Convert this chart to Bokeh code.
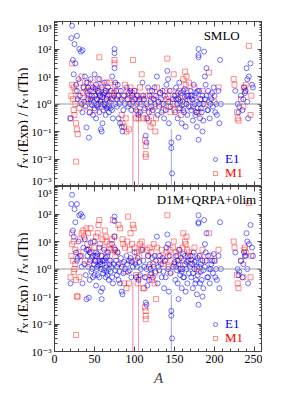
import math
from bokeh.plotting import figure
from bokeh.models import (Range1d, LinearAxis, LogAxis, FixedTicker, CustomJSTickFormatter,
                          Span, Label, Legend, LegendItem)
from bokeh.layouts import column, row
from bokeh.embed import file_html
from bokeh.resources import INLINE

FONT = "Liberation Serif"
TICK_FONT = "'Liberation Serif', 'DejaVu Serif', serif"

# ---------------- data ----------------
x_ticks = [0, 50, 100, 150, 200, 250]
x_minor = list(range(0, 261, 10))
y_ticks = [1e-3, 1e-2, 1e-1, 1, 10, 100, 1000]
y_minor = [k * 10.0 ** n for n in range(-3, 3) for k in range(2, 10)]

panel_titles = ["SMLO", "D1M+QRPA+0lim"]
legend_labels = ["E1", "M1"]

e1_A = [20, 21, 22, 23, 24, 25, 26, 27, 28, 28,
        29, 30, 31, 32, 33, 34, 35, 35, 36, 37,
        38, 39, 40, 40, 41, 42, 43, 44, 44, 45,
        46, 47, 48, 48, 49, 50, 50, 51, 52, 52,
        53, 54, 54, 55, 56, 56, 57, 58, 58, 59,
        59, 60, 60, 61, 62, 62, 63, 64, 64, 65,
        66, 66, 67, 68, 68, 69, 70, 70, 71, 72,
        72, 73, 74, 75, 75, 75, 76, 76, 77, 78,
        78, 79, 80, 80, 81, 82, 83, 84, 84, 85,
        86, 87, 88, 90, 91, 92, 93, 94, 95, 96,
        97, 98, 100, 101, 102, 103, 104, 105, 106, 107,
        108, 110, 111, 112, 113, 114, 115, 115, 116, 117,
        118, 119, 120, 121, 122, 123, 124, 125, 126, 127,
        128, 129, 130, 131, 132, 133, 134, 135, 136, 137,
        138, 139, 140, 141, 142, 142, 143, 144, 145, 146,
        146, 147, 148, 150, 151, 152, 153, 154, 155, 155,
        156, 157, 158, 159, 160, 161, 162, 163, 164, 165,
        166, 167, 168, 170, 171, 172, 173, 174, 175, 176,
        177, 178, 178, 179, 180, 180, 180, 180, 181, 182,
        183, 184, 185, 185, 186, 187, 188, 189, 190, 190,
        191, 192, 193, 194, 196, 198, 199, 200, 201, 202,
        203, 205, 206, 207, 208, 226, 229, 230, 231, 233,
        235, 236, 237, 238, 239, 240, 241, 241, 242, 243,
        245, 247, 248,
        42, 45, 47, 51, 53, 55, 57, 61, 63, 65,
        152, 154, 157, 159, 161, 163, 165, 169, 171, 173,
        175, 177, 179, 181, 183, 186, 188, 192, 195, 197]

e1_smlo = [0.3, 250, 700, 40, 12, 150, 30, 5, 300, 3,
           1.5, 8, 100, 2, 80, 1, 90, 0.5, 4, 1.2,
           10, 0.8, 0.14, 6, 2.5, 1.5, 0.06, 3, 0.5, 8,
           1, 2, 0.4, 4, 1.2, 12, 0.7, 2, 5, 0.3,
           1.5, 3, 0.8, 1, 8, 0.5, 2, 0.12, 1.2, 4,
           0.1, 0.2, 1.8, 0.6, 6, 1, 2.5, 0.4, 3, 1.5,
           0.8, 2, 4, 0.9, 0.5, 1.2, 3, 0.7, 1.5, 10,
           0.6, 0.3, 2, 100, 70, 20, 6, 1, 3, 1.5,
           0.8, 5, 2, 0.3, 1, 0.2, 3, 0.15, 1.5, 0.1,
           0.6, 2, 1, 4, 1.5, 0.8, 2.5, 1, 3, 0.6,
           2, 1.2, 3, 1.5, 0.6, 1, 2, 0.4, 1.5, 0.5,
           1, 6, 2, 1.5, 0.7, 0.07, 0.04, 1, 0.3, 4,
           0.5, 2, 1.2, 0.8, 3, 0.6, 1.5, 4, 1, 2,
           10, 0.4, 1.2, 0.8, 2.5, 1.5, 0.5, 3, 1, 0.3,
           2, 0.6, 5, 16, 8, 1.2, 0.2, 3, 0.8, 0.04,
           0.025, 0.003, 1.5, 2, 0.5, 4, 1, 0.3, 0.06, 1.5,
           6, 0.7, 2.5, 0.2, 1.2, 3, 0.5, 1.8, 0.15, 1,
           0.4, 2, 0.8, 3, 0.6, 1.5, 0.25, 5, 1, 0.4,
           2.5, 0.15, 1.2, 0.7, 100, 60, 50, 0.05, 3, 0.3,
           1.5, 0.5, 2, 0.1, 1, 80, 10, 5, 20, 2,
           0.6, 3, 1.2, 0.3, 1.5, 0.8, 4, 2, 0.5, 1,
           0.4, 3, 0.2, 40, 1, 3, 1, 0.5, 0.8, 2,
           0.6, 1.5, 4, 2.5, 3, 20, 8, 1.2, 0.3, 10,
           30, 5, 4,
           4, 1.5, 0.9, 3.5, 0.9, 2.5, 1.3, 2.2, 0.9, 0.7,
           1.5, 2.5, 1.2, 0.9, 0.6, 3.5, 2, 1.3, 2, 0.8,
           2, 0.5, 3, 1, 0.7, 0.25, 1.5, 0.6, 1, 2.5]

e1_d1m = [0.3, 230, 500, 25, 15, 150, 50, 4, 230, 2,
          2.5, 10, 90, 3, 100, 1.2, 80, 0.3, 6, 1.5,
          12, 0.6, 0.08, 5, 3, 1.2, 0.09, 4, 0.4, 9,
          0.8, 2.5, 0.5, 3, 1.5, 10, 0.6, 2, 4, 0.25,
          1.2, 3.5, 0.6, 1.3, 6, 0.5, 1.8, 0.15, 1, 3,
          0.08, 0.2, 2, 0.7, 5, 0.9, 2, 0.5, 2.5, 1.2,
          0.6, 3, 4, 1, 0.4, 1.5, 2, 0.8, 1.2, 8,
          0.5, 0.3, 1.5, 80, 55, 15, 5, 0.9, 2, 1.2,
          0.6, 4, 1.5, 0.4, 0.8, 0.3, 2.5, 0.15, 1.2, 0.12,
          0.7, 1.8, 1, 3, 1.5, 0.8, 2, 0.9, 2.5, 0.5,
          1.8, 1.2, 4, 1.5, 0.5, 1.2, 2.5, 0.4, 1.8, 0.6,
          1, 5, 2, 1.2, 0.5, 0.06, 0.05, 1, 0.25, 3,
          0.4, 1.5, 1, 0.7, 2.5, 0.5, 1.2, 3, 0.8, 2,
          15, 0.3, 1.2, 0.9, 3, 1.5, 0.5, 2.5, 0.8, 0.2,
          2, 0.5, 6, 18, 8, 1, 0.15, 3, 0.7, 0.03,
          0.02, 0.003, 1.2, 1.8, 0.4, 3, 0.9, 0.3, 0.08, 1.5,
          5, 0.6, 2.5, 0.2, 1, 3.5, 0.5, 1.5, 0.15, 1,
          0.3, 2, 0.7, 3, 0.5, 1.5, 0.2, 4, 1, 0.3,
          2, 0.12, 1.2, 0.6, 90, 50, 45, 0.05, 3, 0.3,
          1.5, 0.4, 2, 0.1, 0.9, 60, 8, 4, 20, 2,
          0.5, 3, 1, 0.3, 1.5, 0.7, 3.5, 2, 0.5, 1,
          0.4, 3, 0.2, 50, 1, 4, 1, 0.6, 0.8, 2,
          0.5, 1.5, 4, 3, 3, 20, 10, 1, 0.3, 8,
          40, 6, 3,
          5, 2, 1, 3, 1, 2, 1.5, 2, 1.1, 0.8,
          1.2, 2, 1, 0.8, 0.5, 3, 1.8, 1.2, 2.2, 0.7,
          1.8, 0.4, 2.5, 1.2, 0.8, 0.2, 1.2, 0.5, 1, 2]

m1_A = [20, 21, 22, 22, 23, 24, 24, 25, 26, 26,
        27, 27, 28, 29, 30, 31, 32, 33, 34, 36,
        37, 38, 40, 41, 42, 43, 44, 45, 46, 48,
        50, 51, 52, 53, 54, 55, 56, 57, 58, 59,
        60, 62, 63, 64, 65, 66, 68, 69, 70, 72,
        73, 74, 75, 75, 76, 78, 80, 82, 84, 85,
        86, 87, 88, 89, 90, 91, 92, 93, 94, 95,
        96, 97, 98, 99, 100, 101, 102, 103, 104, 105,
        106, 107, 108, 109, 110, 111, 112, 113, 114, 114,
        114, 115, 116, 117, 118, 119, 120, 121, 122, 123,
        124, 125, 126, 127, 128, 130, 132, 134, 136, 138,
        140, 141, 142, 143, 144, 145, 146, 148, 149, 150,
        152, 154, 155, 156, 158, 160, 161, 162, 163, 164,
        165, 166, 167, 168, 170, 172, 175, 178, 180, 182,
        185, 188, 193, 195, 200, 205, 224, 225, 228, 229,
        230, 233, 236, 237, 238, 239, 243, 245, 246]

m1_smlo = [0.3, 2, 5, 30, 1.5, 4, 0.6, 0.4, 3, 1,
           0.2, 0.008, 0.12, 0.08, 2, 0.7, 6, 1.2, 10, 2.5,
           4, 0.9, 3, 1.5, 6, 2, 0.5, 5, 1.2, 3,
           2, 0.6, 4, 1.5, 8, 3, 50, 2, 1, 0.8,
           5, 2.5, 1.2, 3, 6, 1.5, 0.8, 6, 2, 3,
           1.5, 2.5, 40, 30, 5, 2, 3, 1.2, 0.4, 0.2,
           2, 0.15, 5, 0.3, 0.1, 3, 1.5, 0.12, 2, 4,
           1, 2.5, 40, 1.5, 3, 0.8, 0.3, 2, 0.5, 0.3,
           1.2, 4, 2, 12, 1.5, 0.3, 0.6, 0.05, 0.03, 0.015,
           0.012, 0.3, 2, 0.8, 0.25, 3, 0.15, 1.5, 0.5, 0.2,
           2, 0.8, 0.1, 0.3, 4, 1.2, 2.5, 1, 0.6, 3,
           1.5, 45, 2, 0.8, 1.2, 0.5, 3, 1, 12, 0.6,
           2, 1.5, 0.7, 3, 0.4, 2, 8, 1, 15, 5,
           10, 3, 1.5, 6, 0.8, 2, 4, 0.5, 0.5, 1.5,
           3, 1, 14, 2, 1.2, 4, 8, 5, 0.5, 0.3,
           0.25, 1.5, 0.8, 4, 3, 5, 130, 0.4, 2]

m1_d1m = [0.5, 3, 8, 20, 2, 10, 0.8, 1, 5, 1.5,
          0.4, 0.004, 0.1, 0.1, 4, 0.5, 12, 3, 20, 25,
          15, 2, 30, 8, 20, 5, 1.5, 30, 4, 10,
          6, 2, 15, 3, 20, 40, 60, 8, 3, 1.5,
          12, 6, 25, 15, 10, 4, 2, 8, 5, 12,
          60, 6, 15, 5, 3, 4, 40, 30, 1.5, 12,
          8, 0.3, 6, 0.8, 0.2, 10, 80, 0.3, 5, 20,
          2, 8, 40, 30, 6, 2, 0.6, 4, 0.3, 0.5,
          3, 8, 5, 10, 6, 0.2, 0.2, 0.04, 0.03, 0.02,
          0.015, 0.5, 5, 3, 1.2, 6, 0.6, 4, 0.4, 1.5,
          8, 0.3, 0.7, 0.08, 6, 3, 2, 5, 1.5, 2,
          4, 90, 3, 1.2, 5, 0.8, 2, 6, 10, 1.5,
          4, 3, 2, 5, 1, 6, 20, 2, 10, 8,
          15, 5, 3, 4, 1.5, 3, 6, 1, 0.8, 3,
          5, 2, 20, 3, 2, 5, 10, 6, 0.6, 0.3,
          0.2, 2, 0.5, 5, 6, 4, 250, 0.5, 3]

# long downward error bars (reach below the axis)
err_A = [98, 105, 146]
err_colors = ["#d9709e", "#f08a9a", "#8c8ce0"]
err_top_smlo = [0.5, 0.65, 0.12]
err_top_d1m = [0.35, 0.55, 0.12]

assert len(e1_A) == len(e1_smlo) == len(e1_d1m)
assert len(m1_A) == len(m1_smlo) == len(m1_d1m)

SUP_JS = """
const e = Math.round(Math.log10(tick));
const m = {'-': '\\u207b', '0': '\\u2070', '1': '\\u00b9', '2': '\\u00b2', '3': '\\u00b3'};
return '10' + String(e).split('').map(c => m[c]).join('');
"""
BLANK_JS = "return '';"

FW, FH = 208, 165
TOP_GAP = 13
LAB_W, LAB_H = 28, 385


def style_axis(ax, labels, size="11px"):
    ax.major_tick_in = 5
    ax.major_tick_out = 0
    ax.minor_tick_in = 3
    ax.minor_tick_out = 0
    ax.axis_line_color = "#444444"
    ax.major_tick_line_color = "#444444"
    ax.minor_tick_line_color = "#444444"
    ax.major_label_text_font = TICK_FONT
    ax.major_label_text_color = "black"
    if labels:
        ax.major_label_text_font_size = size
        ax.major_label_standoff = 3
    else:
        ax.formatter = CustomJSTickFormatter(code=BLANK_JS)
        ax.major_label_standoff = 0


def make_panel(e1_vals, m1_vals, err_vals, title, tx, ty, bottom):
    p = figure(frame_width=FW, frame_height=FH,
               x_range=Range1d(0, 260), y_range=Range1d(1e-3, 1e3),
               y_axis_type="log", output_backend="svg", toolbar_location=None,
               min_border=0,
               background_fill_color="white", border_fill_color="white")
    p.xgrid.visible = False
    p.ygrid.visible = False
    p.outline_line_color = "#444444"

    p.xaxis.ticker = FixedTicker(ticks=x_ticks, minor_ticks=x_minor)
    p.yaxis.ticker = FixedTicker(ticks=y_ticks, minor_ticks=y_minor)
    p.yaxis.formatter = CustomJSTickFormatter(code=SUP_JS)
    style_axis(p.yaxis[0], True, "11px")
    style_axis(p.xaxis[0], bottom, "12px")
    if bottom:
        p.xaxis.axis_label = "A"
        p.xaxis.axis_label_text_font = FONT
        p.xaxis.axis_label_text_font_style = "italic"
        p.xaxis.axis_label_text_font_size = "15px"
        p.xaxis.axis_label_standoff = 4

    top_ax = LinearAxis(ticker=FixedTicker(ticks=x_ticks, minor_ticks=x_minor))
    style_axis(top_ax, False)
    p.add_layout(top_ax, "above")
    right_ax = LogAxis(ticker=FixedTicker(ticks=y_ticks, minor_ticks=y_minor))
    style_axis(right_ax, False)
    p.add_layout(right_ax, "right")

    p.add_layout(Span(location=1, dimension="width", line_color="#999999", line_width=1))
    p.segment(x0=err_A, y0=err_vals, x1=err_A, y1=[1e-3] * len(err_A),
              line_color=err_colors, line_width=1, line_alpha=0.8)

    rm = p.scatter(m1_A, m1_vals, marker="square", size=5, fill_color=None,
                   line_color="red", line_alpha=0.45, line_width=1)
    re = p.scatter(e1_A, e1_vals, marker="circle", size=5, fill_color=None,
                   line_color="blue", line_alpha=0.55, line_width=1)

    for lbl, r, col, loc in [(legend_labels[0], re, "blue", (156, 19)),
                             (legend_labels[1], rm, "red", (156, 5))]:
        lg = Legend(items=[LegendItem(label=lbl, renderers=[r])], location=loc,
                    label_text_font=FONT, label_text_font_size="13px",
                    label_text_color=col, glyph_width=10, glyph_height=10,
                    label_standoff=5, padding=0, margin=0, spacing=0,
                    label_height=10, border_line_color=None,
                    background_fill_alpha=0)
        p.add_layout(lg)

    p.add_layout(Label(x=tx, y=ty, text=title, text_font=FONT, text_font_size="13px",
                       text_align="center", text_baseline="middle", text_color="black"))
    return p


def make_ylabel_strip():
    # narrow figure holding the two rotated y-axis titles (with subscripts)
    q = figure(width=LAB_W, height=LAB_H, x_range=Range1d(0, LAB_W), y_range=Range1d(0, LAB_H),
               output_backend="svg", toolbar_location=None, min_border=0,
               x_axis_location=None, y_axis_location=None,
               background_fill_color="white", border_fill_color="white")
    q.outline_line_color = None
    q.xgrid.visible = False
    q.ygrid.visible = False
    pieces = [("f", 0.0, False, True), ("X1", 4.2, True, False),
              ("(Exp) / ", 16.6, False, False), ("f", 59.6, False, True),
              ("X1", 63.8, True, False), ("(Th)", 76.0, False, False)]
    # bottom ends of the two titles, measured down from the top of the strip
    for depth in [160, 325]:
        for txt, off, sub, ital in pieces:
            q.add_layout(Label(x=26 if sub else 23, y=LAB_H - depth + off, text=txt,
                               angle=math.pi / 2, text_font=FONT,
                               text_font_size="10px" if sub else "14px",
                               text_font_style="italic" if ital else "normal",
                               text_align="left", text_baseline="alphabetic",
                               text_color="black"))
    return q


p_top = make_panel(e1_smlo, m1_smlo, err_top_smlo, panel_titles[0], 209, 300, False)
p_bot = make_panel(e1_d1m, m1_d1m, err_top_d1m, panel_titles[1], 190, 350, True)
strip = make_ylabel_strip()

right_col = column(p_top, p_bot, spacing=0, margin=(TOP_GAP, 0, 0, 0))
layout = row(strip, right_col, spacing=0, margin=(8, 0, 0, 0))
open("out.html", "w").write(file_html(layout, INLINE))
